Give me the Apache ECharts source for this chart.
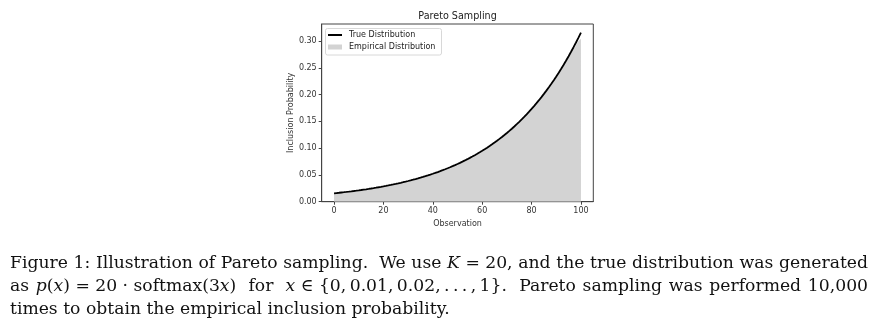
<!DOCTYPE html>
<html>
<head>
<meta charset="utf-8">
<script src="https://cdn.jsdelivr.net/npm/echarts@6/dist/echarts.min.js"></script>
<style>
html,body{margin:0;padding:0;background:#fff;}
#c{width:878px;height:335px;}
</style>
</head>
<body>
<div id="c"></div>
<script>
// Data (observation index 0..100)
const trueProb = [
0.01571,0.01619,0.01668,0.01719,0.01771,0.01825,0.01881,0.01938,0.01997,0.02058,
0.02121,0.02185,0.02252,0.02320,0.02391,0.02464,0.02539,0.02616,0.02696,0.02778,
0.02863,0.02950,0.03040,0.03132,0.03227,0.03326,0.03427,0.03531,0.03639,0.03750,
0.03864,0.03982,0.04103,0.04228,0.04357,0.04489,0.04626,0.04767,0.04912,0.05062,
0.05216,0.05375,0.05538,0.05707,0.05881,0.06060,0.06245,0.06435,0.06631,0.06833,
0.07041,0.07255,0.07476,0.07704,0.07938,0.08180,0.08429,0.08686,0.08950,0.09223,
0.09504,0.09793,0.10092,0.10399,0.10716,0.11042,0.11378,0.11725,0.12082,0.12450,
0.12829,0.13220,0.13622,0.14037,0.14465,0.14905,0.15359,0.15827,0.16309,0.16806,
0.17317,0.17845,0.18388,0.18948,0.19525,0.20120,0.20733,0.21364,0.22015,0.22685,
0.23376,0.24088,0.24822,0.25578,0.26356,0.27159,0.27986,0.28839,0.29717,0.30622,
0.31554
];
const empiricalProb = [
0.01571,0.01619,0.01668,0.01719,0.01771,0.01825,0.01881,0.01938,0.01997,0.02058,
0.02121,0.02185,0.02252,0.02320,0.02391,0.02464,0.02539,0.02616,0.02696,0.02778,
0.02863,0.02950,0.03040,0.03132,0.03227,0.03326,0.03427,0.03531,0.03639,0.03750,
0.03864,0.03982,0.04103,0.04228,0.04357,0.04489,0.04626,0.04767,0.04912,0.05062,
0.05216,0.05375,0.05538,0.05707,0.05881,0.06060,0.06245,0.06435,0.06631,0.06833,
0.07041,0.07255,0.07476,0.07704,0.07938,0.08180,0.08429,0.08686,0.08950,0.09223,
0.09504,0.09793,0.10092,0.10399,0.10716,0.11042,0.11378,0.11725,0.12082,0.12450,
0.12829,0.13220,0.13622,0.14037,0.14465,0.14905,0.15359,0.15827,0.16309,0.16806,
0.17317,0.17845,0.18388,0.18948,0.19525,0.20110,0.20710,0.21330,0.21960,0.22610,
0.23280,0.23970,0.24670,0.25400,0.26150,0.26900,0.27680,0.28470,0.29250,0.29980,
0.30400
];
const xTicks = [0, 20, 40, 60, 80, 100];
const yTicks = [0.00, 0.05, 0.10, 0.15, 0.20, 0.25, 0.30];
const titleText = 'Pareto Sampling';
const xName = 'Observation';
const yName = 'Inclusion Probability';
const seriesNames = ['True Distribution', 'Empirical Distribution'];

// Caption lines: [text, italic]; ASCII spaces stretch when justified, NBSP do not.
const captionLines = [
  [['Figure 1: Illustration of Pareto sampling.  We use ', 0], ['K', 1], ['\u00a0=\u00a020, and the true distribution was generated', 0]],
  [['as ', 0], ['p', 1], ['(', 0], ['x', 1], [')\u00a0=\u00a020\u00a0·\u00a0softmax(3', 0], ['x', 1], [')  for  ', 0], ['x', 1],
   ['\u00a0∈\u00a0{0,\u20090.01,\u20090.02,\u2009.\u2009.\u2009.\u2009,\u20091}.  Pareto sampling was performed 10,000', 0]],
  [['times to obtain the empirical inclusion probability.', 0]]
];

const FONT = 'DejaVu Sans';
const SERIF = 'DejaVu Serif';
const capFont = 17.2;
const capLeft = 10, capRight = 868;
const capY = [264, 287, 309.5];
const capJustify = [true, true, false];

const measureCtx = document.createElement('canvas').getContext('2d');
function fontStr(it) { return (it ? 'italic ' : '') + capFont + 'px "' + SERIF + '"'; }
function measure(t, it) { measureCtx.font = fontStr(it); return measureCtx.measureText(t).width; }

function captionGraphics() {
  const out = [];
  captionLines.forEach((segs, li) => {
    const pieces = [];
    segs.forEach(([t, it]) => {
      t.split(/( +)/).forEach(p => {
        if (!p) return;
        pieces.push({t: p, it: it, gap: /^ +$/.test(p), w: measure(p, it)});
      });
    });
    const natural = pieces.reduce((s, p) => s + p.w, 0);
    const gaps = pieces.filter(p => p.gap).length;
    const extra = capJustify[li] && gaps ? (capRight - capLeft - natural) / gaps : 0;
    let x = capLeft;
    pieces.forEach(p => {
      if (p.gap) { x += p.w + extra; return; }
      out.push({type: 'text', x: x, y: capY[li], silent: true,
        style: {text: p.t, fontFamily: SERIF, fontSize: capFont, fontStyle: p.it ? 'italic' : 'normal',
          fill: '#111', align: 'left', verticalAlign: 'middle', textVerticalAlign: 'middle'}});
      x += p.w;
    });
  });
  return out;
}

const chart = echarts.init(document.getElementById('c'), null, {renderer: 'canvas'});

const option = {
  backgroundColor: '#fff',
  animation: false,
  grid: {left: 321.7, right: 284.7, top: 24, bottom: 133.3, show: true, borderColor: '#444', borderWidth: 1, containLabel: false},
  xAxis: {
    type: 'value', min: -5, max: 105,
    name: xName, nameLocation: 'middle', nameGap: 15,
    nameTextStyle: {fontFamily: FONT, fontSize: 8, color: '#333'},
    axisLine: {show: true, onZero: false, lineStyle: {color: '#444', width: 1}},
    axisTick: {show: true, length: 3, customValues: xTicks, lineStyle: {color: '#444', width: 1}},
    axisLabel: {customValues: xTicks, margin: 5, fontFamily: FONT, fontSize: 8, color: '#333'},
    splitLine: {show: false}
  },
  yAxis: {
    type: 'value', min: 0, max: 0.3317,
    name: yName, nameLocation: 'middle', nameGap: 27, nameRotate: 90,
    nameTextStyle: {fontFamily: FONT, fontSize: 8, color: '#333'},
    axisLine: {show: true, onZero: false, lineStyle: {color: '#444', width: 1}},
    axisTick: {show: true, length: 3, customValues: yTicks, lineStyle: {color: '#444', width: 1}},
    axisLabel: {customValues: yTicks, margin: 5, fontFamily: FONT, fontSize: 8, color: '#333',
      formatter: v => v.toFixed(2)},
    splitLine: {show: false}
  },
  legend: [
    {data: [seriesNames[0]], left: 328, top: 31, orient: 'vertical', icon: 'rect', itemWidth: 14, itemHeight: 2, itemGap: 4,
      padding: 0, textStyle: {fontFamily: FONT, fontSize: 8, color: '#222', padding: [0,0,0,2]}},
    {data: [seriesNames[1]], left: 328, top: 43, orient: 'vertical', icon: 'rect', itemWidth: 14, itemHeight: 5, itemGap: 4,
      padding: 0, textStyle: {fontFamily: FONT, fontSize: 8, color: '#222', padding: [0,0,0,2]}}
  ],
  graphic: [
    {type: 'rect', shape: {x: 325.5, y: 28.5, width: 116, height: 26.5, r: 2}, silent: true,
      style: {fill: 'rgba(255,255,255,0.8)', stroke: '#d8d8d8', lineWidth: 1}},
    {type: 'text', x: 457.5, y: 16.7, silent: true,
      style: {text: titleText, fontFamily: FONT, fontSize: 9.6, fill: '#222', align: 'center', textAlign: 'center', verticalAlign: 'middle', textVerticalAlign: 'middle'}}
  ].concat(captionGraphics()),
  series: [
    {name: seriesNames[1], type: 'line', data: empiricalProb.map((v, i) => [i, v]), symbol: 'none',
      lineStyle: {width: 0, color: '#d3d3d3'}, itemStyle: {color: '#d3d3d3'}, areaStyle: {color: '#d3d3d3', opacity: 1}, z: 2},
    {name: seriesNames[0], type: 'line', data: trueProb.map((v, i) => [i, v]), symbol: 'none',
      lineStyle: {width: 1.8, color: '#000'}, itemStyle: {color: '#000'}, z: 3}
  ]
};
chart.setOption(option);
</script>
</body>
</html>
